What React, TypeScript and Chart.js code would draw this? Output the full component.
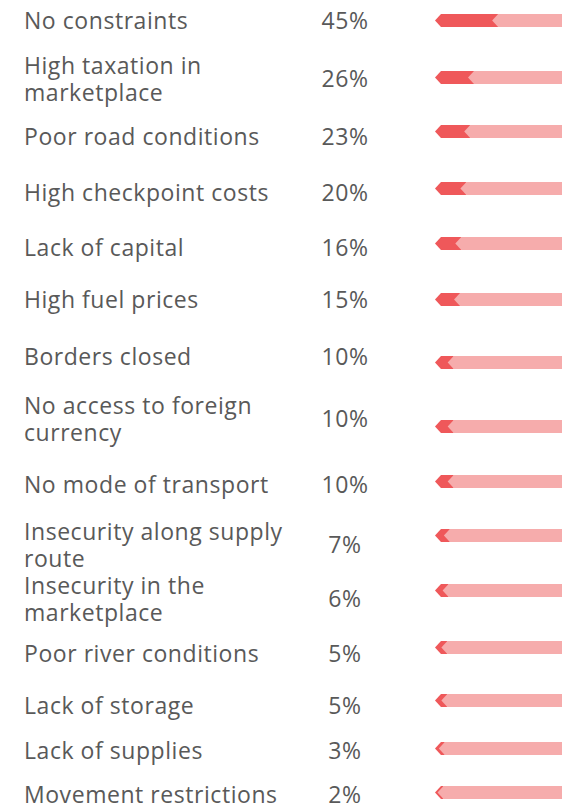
import React, { useEffect, useRef } from "react";
import { Chart, registerables } from "chart.js";

Chart.register(...registerables);

// ---- data ----
const LABELS: string[] = [
  "No constraints",
  "High taxation in marketplace",
  "Poor road conditions",
  "High checkpoint costs",
  "Lack of capital",
  "High fuel prices",
  "Borders closed",
  "No access to foreign currency",
  "No mode of transport",
  "Insecurity along supply route",
  "Insecurity in the marketplace",
  "Poor river conditions",
  "Lack of storage",
  "Lack of supplies",
  "Movement restrictions",
];
const VALUES: number[] = [45, 26, 23, 20, 16, 15, 10, 10, 10, 7, 6, 5, 5, 3, 2];
const SCALE_MAX = 100;

// ---- layout (row centres, px) ----
const TEXT_Y: number[] = [21, 78.5, 137, 193, 248, 300, 357, 418.5, 485, 544.5, 598.5, 654, 706, 751, 795];
const BAR_Y: number[] = [20.5, 77, 131, 188, 243, 299, 362, 426, 481, 535, 590, 647, 700, 748, 792];

const DARK = "#EF585A";
const LIGHT = "#F6ACAC";
const TEXT_COLOR = "#595959";
const FONT = "'Open Sans', 'Noto Sans', sans-serif";

const BAR_LEFT = 435;
const BAR_WIDTH = 127;
const CANVAS_H = 21;

const chevronPlugin = {
  id: "chevron",
  beforeDatasetsDraw(chart: any) {
    const ctx = chart.ctx;
    chart.data.datasets.forEach((ds: any, i: number) => {
      const meta = chart.getDatasetMeta(i);
      meta.data.forEach((el: any) => {
        const { x, base, y, height } = el.getProps(["x", "base", "y", "height"], true);
        const left = Math.min(x, base);
        const right = Math.max(x, base);
        const top = y - height / 2;
        const bot = y + height / 2;
        const d = (height / 2) * 0.92;
        const rightEnd = i === 0 ? right + d : right;
        ctx.save();
        ctx.beginPath();
        ctx.moveTo(left, y);
        ctx.lineTo(left + d, top);
        ctx.lineTo(rightEnd, top);
        ctx.lineTo(rightEnd, bot);
        ctx.lineTo(left + d, bot);
        ctx.closePath();
        ctx.fillStyle = ds.backgroundColor;
        ctx.fill();
        ctx.restore();
      });
    });
    return false;
  },
};

function ChevronBar({ value }: { value: number }) {
  const ref = useRef<HTMLCanvasElement | null>(null);
  useEffect(() => {
    if (!ref.current) return;
    const chart = new Chart(ref.current, {
      type: "bar",
      data: {
        labels: [""],
        datasets: [
          { data: [value], backgroundColor: DARK, barThickness: 13 },
          { data: [SCALE_MAX - value], backgroundColor: LIGHT, barThickness: 13 },
        ],
      },
      options: {
        indexAxis: "y",
        responsive: false,
        maintainAspectRatio: false,
        animation: false,
        devicePixelRatio: 1,
        layout: { padding: 0 },
        plugins: { legend: { display: false }, tooltip: { enabled: false } },
        scales: {
          x: { type: "linear", min: 0, max: SCALE_MAX, stacked: true, display: false },
          y: { stacked: true, display: false },
        },
      },
      plugins: [chevronPlugin],
    } as any);
    return () => chart.destroy();
  }, [value]);
  return <canvas ref={ref} width={BAR_WIDTH} height={CANVAS_H} style={{ display: "block", width: BAR_WIDTH, height: CANVAS_H }} />;
}

const textStyle: React.CSSProperties = {
  position: "absolute",
  fontSize: 23,
  letterSpacing: "0.55px",
  lineHeight: "27.5px",
  top: "50%",
  transform: "translateY(-50%)",
};

export default function App() {
  return (
    <div
      style={{
        position: "absolute",
        left: 0,
        top: 0,
        width: 562,
        height: 807,
        background: "#fff",
        fontFamily: FONT,
        color: TEXT_COLOR,
      }}
    >
      {LABELS.map((label, i) => (
        <div
          key={"t" + i}
          style={{
            position: "absolute",
            left: 0,
            top: TEXT_Y[i] - 30,
            height: 60,
            width: 430,
          }}
        >
          <div style={{ ...textStyle, left: 24, width: 278 }}>{label}</div>
          <div style={{ ...textStyle, left: 300, width: 90, textAlign: "center" }}>{VALUES[i] + "%"}</div>
        </div>
      ))}
      {VALUES.map((v, i) => (
        <div
          key={"b" + i}
          style={{ position: "absolute", left: BAR_LEFT, top: BAR_Y[i] - CANVAS_H / 2, width: BAR_WIDTH, height: CANVAS_H }}
        >
          <ChevronBar value={v} />
        </div>
      ))}
    </div>
  );
}
